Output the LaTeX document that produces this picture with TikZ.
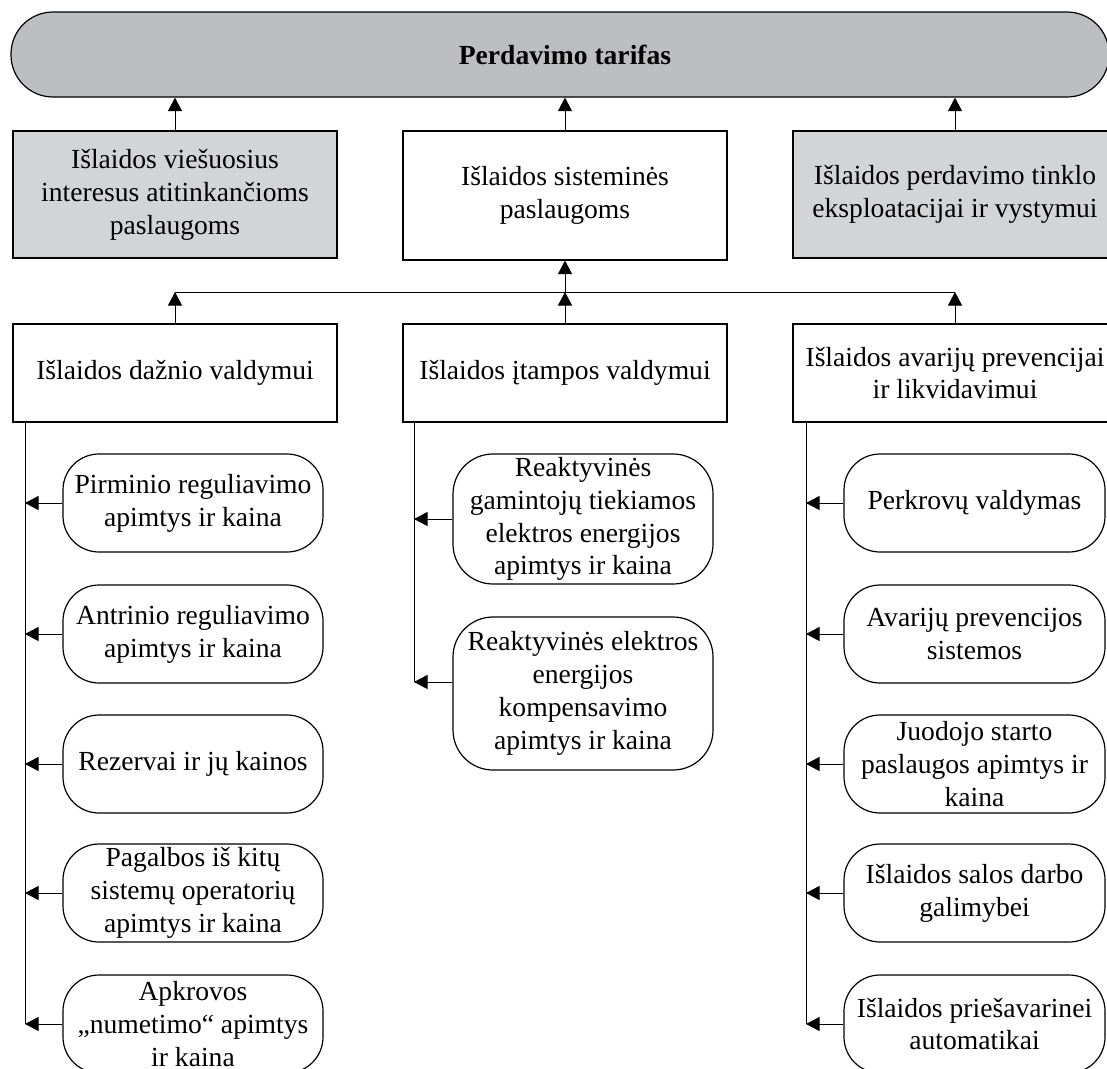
\documentclass[tikz,border=0pt]{standalone}
\usepackage{fontspec}
\setmainfont{Liberation Serif}
\usetikzlibrary{arrows.meta,calc}
\definecolor{barfill}{RGB}{189,190,193}
\definecolor{boxfill}{RGB}{211,212,214}
\begin{document}
\begin{tikzpicture}[x=1pt,y=-1pt,
  every node/.style={font=\fontsize{27.6}{32.9}\selectfont, align=center},
  bx/.style={draw, line width=1.2pt, minimum width=324pt, minimum height=127pt, inner sep=2pt},
  gbx/.style={bx, fill=boxfill},
  pill/.style={draw, line width=1.2pt, rounded corners=36pt, minimum width=260pt, minimum height=98pt, inner sep=1pt},
  tallpill/.style={pill, rounded corners=40pt},
  con/.style={line width=1pt},
  arr/.style={con, -{Triangle[length=13.5pt,width=14pt]}}]
\useasboundingbox (0,0) rectangle (1107,1068);

% top bar
\node[draw, line width=1.2pt, fill=barfill, rounded corners=42pt, minimum width=1098pt, minimum height=85pt] (bar) at (560,54.5) {\hspace*{10pt}\textbf{Perdavimo tarifas}};

% level 1
\node[gbx] (b1) at (175,194.5) {Išlaidos viešuosius\\interesus atitinkančioms\\paslaugoms};
\node[bx, minimum height=129pt] (b2) at (565,195.5) {Išlaidos sisteminės\\paslaugoms};
\node[gbx] (b3) at (955,194.5) {Išlaidos perdavimo tinklo\\eksploatacijai ir vystymui};

% level 2
\node[bx, minimum height=98pt] (c1) at (175,373) {Išlaidos dažnio valdymui};
\node[bx, minimum height=98pt] (c2) at (565,373) {Išlaidos įtampos valdymui};
\node[bx, minimum height=98pt] (c3) at (955,373) {Išlaidos avarijų prevencijai\\ir likvidavimui};

% arrows to bar
\draw[arr] (b1.north) -- (b1.north |- bar.south);
\draw[arr] (b2.north) -- (b2.north |- bar.south);
\draw[arr] (b3.north) -- (b3.north |- bar.south);

% hub line
\coordinate (hL) at (175,292);
\coordinate (hM) at (565,292);
\coordinate (hR) at (955,292);
\draw[con] (hL) -- (hR);
\draw[arr] (c1.north) -- (hL);
\draw[arr] (c2.north) -- (hM);
\draw[arr] (c3.north) -- (hR);
\draw[arr] (hM) -- (b2.south);

% left column
\node[pill] (L1) at (193,503) {Pirminio reguliavimo\\apimtys ir kaina};
\node[pill] (L2) at (193,634) {Antrinio reguliavimo\\apimtys ir kaina};
\node[pill] (L3) at (193,764) {Rezervai ir jų kainos};
\node[pill] (L4) at (193,893) {Pagalbos iš kitų\\sistemų operatorių\\apimtys ir kaina};
\node[pill] (L5) at (193,1024) {Apkrovos\\„numetimo“ apimtys\\ir kaina};

% middle column
\node[tallpill, minimum height=130pt] (M1) at (583,519) {Reaktyvinės\\gamintojų tiekiamos\\elektros energijos\\apimtys ir kaina};
\node[tallpill, minimum height=153pt] (M2) at (583,693.5) {Reaktyvinės elektros\\energijos\\kompensavimo\\apimtys ir kaina};

% right column
\node[pill, minimum width=261pt] (R1) at (974.5,503) {Perkrovų valdymas};
\node[pill, minimum width=261pt] (R2) at (974.5,634) {Avarijų prevencijos\\sistemos};
\node[pill, minimum width=261pt] (R3) at (974.5,764) {Juodojo starto\\paslaugos apimtys ir\\kaina};
\node[pill, minimum width=261pt] (R4) at (974.5,893) {Išlaidos salos darbo\\galimybei};
\node[pill, minimum width=261pt] (R5) at (974.5,1024) {Išlaidos priešavarinei\\automatikai};

% spines
\coordinate (sL) at (25,422);
\coordinate (sM) at (414,422);
\coordinate (sR) at (806,422);
\coordinate (m2a) at ($(M2.west)+(0,-11.5)$);

\draw[con] (sL) -- (sL |- L5.west);
\draw[con] (sM) -- (sM |- m2a);
\draw[con] (sR) -- (sR |- R5.west);

\foreach \n in {L1,L2,L3,L4,L5} \draw[arr] (\n.west) -- (\n.west -| sL);
\foreach \n in {R1,R2,R3,R4,R5} \draw[arr] (\n.west) -- (\n.west -| sR);
\draw[arr] (M1.west) -- (M1.west -| sM);
\draw[arr] (m2a) -- (m2a -| sM);
\end{tikzpicture}
\end{document}
